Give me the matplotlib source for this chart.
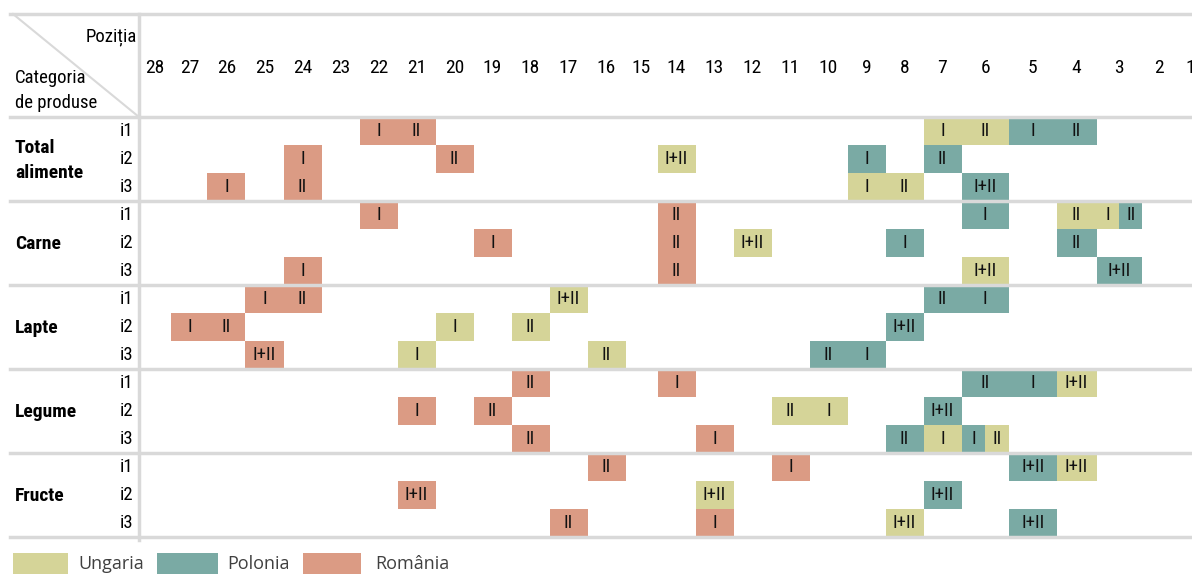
"""Positions of Hungary, Poland and Romania by food category (periods I and II)."""

import matplotlib

matplotlib.use("Agg")
import matplotlib.pyplot as plt
import numpy as np
from matplotlib import font_manager
from matplotlib.lines import Line2D
from matplotlib.patches import Rectangle

# ---- data ------------------------------------------------------------------
categories = ["Total\nalimente", "Carne", "Lapte", "Legume", "Fructe"]
indicators = ["i1", "i2", "i3"]
positions = list(range(28, 0, -1))
countries = ["Ungaria", "Polonia", "România"]

# (position in period I, position in period II), rows: Total i1-i3, Carne i1-i3, ...
ungaria = [(7, 6), (14, 14), (9, 8),
           (3, 4), (12, 12), (6, 6),
           (17, 17), (20, 18), (21, 16),
           (4, 4), (10, 11), (7, 6),
           (4, 4), (13, 13), (8, 8)]
polonia = [(5, 4), (9, 7), (6, 6),
           (6, 3), (8, 4), (3, 3),
           (6, 7), (8, 8), (9, 10),
           (5, 6), (7, 7), (6, 8),
           (5, 5), (7, 7), (5, 5)]
romania = [(22, 21), (24, 20), (26, 24),
           (22, 14), (19, 14), (24, 14),
           (25, 24), (27, 26), (25, 25),
           (14, 18), (21, 19), (13, 18),
           (11, 16), (21, 21), (13, 17)]

colors = {"Ungaria": "#d5d498", "Polonia": "#7aaaa4", "România": "#db9b84"}
series = {"Ungaria": ungaria, "Polonia": polonia, "România": romania}

# ---- layout (pixels) -------------------------------------------------------
W, H = 1192, 577
grid_left = 139
header_top, header_bottom, row_h = 14, 117, 28
# widths of the position columns, 28 -> 1 (the sheet has uneven columns)
col_width = [32.5, 36] + [38] * 11 + [32] + [38] * 8 + [47.5, 47.5, 40, 45.5, 33, 30]

edges_px = grid_left + np.concatenate([[0], np.cumsum(col_width)])
edge_pos = np.arange(28.5, 0, -1)
pos_pts = np.concatenate([[60.0], edge_pos, [-20.0]])
px_pts = np.concatenate([[grid_left - 31.5 * col_width[0]], edges_px,
                         [edges_px[-1] + 20.5 * col_width[-1]]])


def fwd(p):
    return np.interp(p, pos_pts[::-1], px_pts[::-1])


def inv(x):
    return np.interp(x, px_pts, pos_pts)


def row_of(px):
    return (px - header_bottom) / row_h - 0.5


names = {f.name for f in font_manager.fontManager.ttflist}
wanted = ["Roboto Condensed", "Liberation Sans Narrow", "Noto Sans Condensed",
          "Open Sans Condensed", "Roboto", "DejaVu Sans"]
narrow = next(n for n in wanted if n in names)
plt.rcParams["font.family"] = [narrow, "DejaVu Sans"]

fig = plt.figure(figsize=(W / 100, H / 100), dpi=100)
ax = fig.add_axes([0, 0, 1, 1])
ax.set_xscale("function", functions=(fwd, inv))
# the scale runs backwards (28 on the left), so limits go small -> large
ax.set_xlim(inv(W), inv(0))
ax.set_ylim(row_of(H), row_of(0))
ax.axis("off")

# ---- boxes -----------------------------------------------------------------
cells = {}
for name in countries:
    for r, (p1, p2) in enumerate(series[name]):
        if p1 == p2:
            cells.setdefault((r, p1), []).append((name, "I+II"))
        else:
            cells.setdefault((r, p1), []).append((name, "I"))
            cells.setdefault((r, p2), []).append((name, "II"))

for (r, p), items in cells.items():
    items = sorted(items, key=lambda t: len(t[1]))
    if len(items) == 1:
        slots = [(p, 1.0)]
    else:
        slots = [(p + 0.25, 0.5), (p - 0.25, 0.5)]
    for (name, lab), (xc, w) in zip(items, slots):
        ax.bar(xc, 1.0, width=w, bottom=r - 0.5, color=colors[name],
               linewidth=0, zorder=2)
        ax.text(xc, r, lab, ha="center", va="center", fontsize=13.5,
                color="#111111", zorder=4)

# ---- grid lines ------------------------------------------------------------
line_c = "#d9d9d9"
for y in [row_of(header_top), -0.5, 2.5, 5.5, 8.5, 11.5, 14.5]:
    ax.axhline(y, xmin=10 / W, xmax=1, color=line_c, lw=2.5, zorder=3)
ax.axvline(28.5, ymin=1 - 540 / H, ymax=1 - header_top / H, color=line_c,
           lw=2.5, zorder=3)
ax.add_line(Line2D([13 / W, grid_left / W], [1 - header_top / H, 1 - header_bottom / H],
                   transform=ax.transAxes, color=line_c, lw=1.5))

# ---- header ----------------------------------------------------------------
ylab = ax.get_yaxis_transform()
for p in positions:
    ax.text(p, row_of(68), str(p), ha="center", va="center", fontsize=14)
ax.text(137 / W, row_of(37), "Poziția", transform=ylab, ha="right",
        va="center", fontsize=13.5)
ax.text(15 / W, row_of(78), "Categoria", transform=ylab, ha="left",
        va="center", fontsize=13.5)
ax.text(15 / W, row_of(103), "de produse", transform=ylab, ha="left",
        va="center", fontsize=13.5)

# ---- row labels ------------------------------------------------------------
for g, cat in enumerate(categories):
    ax.text(15 / W, 3 * g + 1.05, cat, transform=ylab, ha="left", va="center",
            fontsize=14, fontweight="bold", linespacing=1.5)
    for k, ind in enumerate(indicators):
        ax.text(133 / W, 3 * g + k, ind, transform=ylab, ha="right",
                va="center", fontsize=13.5)

# ---- legend ----------------------------------------------------------------
legend_x = [(13, 68, 78), (157, 218, 227), (303, 361, 375)]
for name, (x0, x1, xt) in zip(countries, legend_x):
    fig.patches.append(Rectangle((x0 / W, 1 - 574 / H), (x1 - x0) / W, 21 / H,
                                 transform=fig.transFigure, color=colors[name],
                                 linewidth=0))
    fig.text(xt / W, 1 - 564 / H, name, ha="left", va="center", fontsize=13,
             family="Open Sans", color="#404040")

fig.savefig("out.png", dpi=100)
